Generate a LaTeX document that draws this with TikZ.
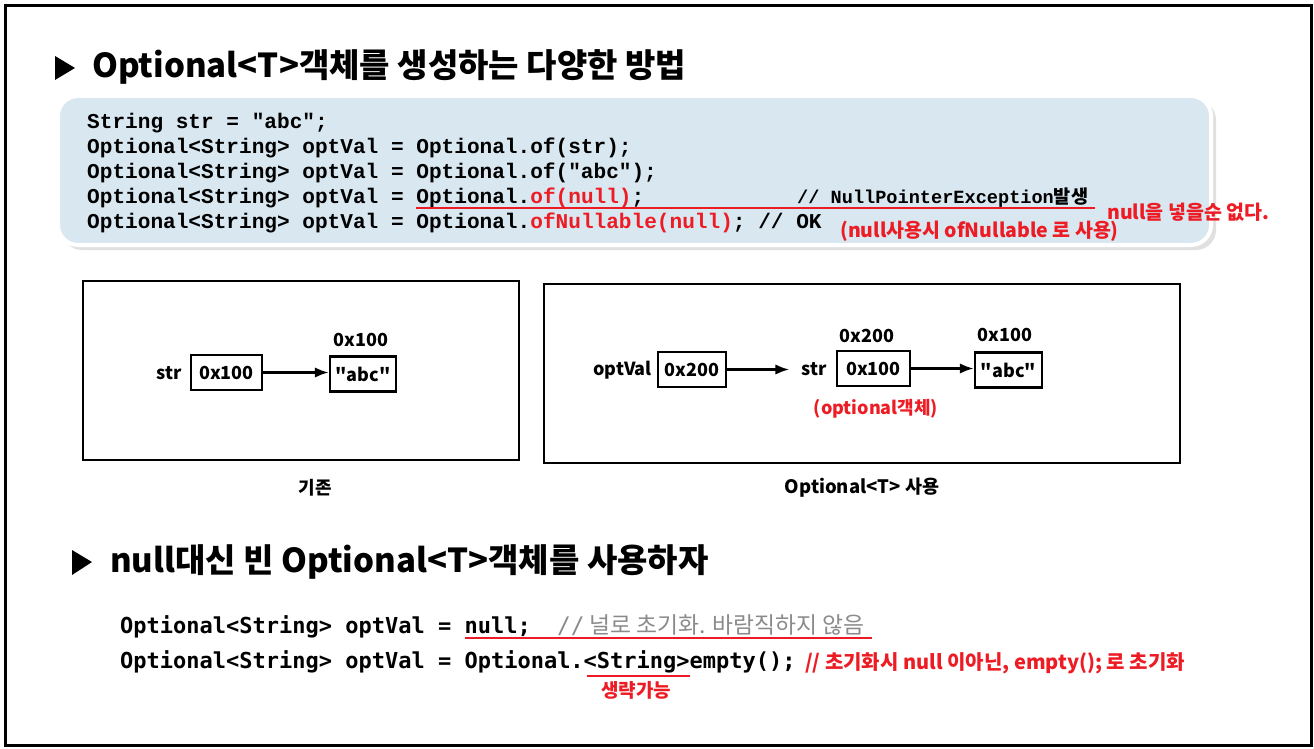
\documentclass[tikz,border=0pt]{standalone}
\usepackage{fontspec}
\usepackage{xcolor}
\usetikzlibrary{arrows.meta}
\setmainfont{Noto Sans CJK KR}[Ligatures=TeXOff]
\setmonofont{Liberation Mono}
\newfontfamily\consfont{DejaVu Sans Mono}
\definecolor{memored}{HTML}{ED1C24}
\definecolor{codebg}{HTML}{D8E7F0}
\definecolor{cmtgray}{HTML}{8A8A8A}

\begin{document}
\begin{tikzpicture}[x=1pt,y=-1pt,>=Latex,
  cell/.style={draw,line width=2.6pt,minimum height=35pt,inner sep=0pt,font=\fontsize{18}{20}\selectfont\bfseries},
  tag/.style={inner sep=0pt,font=\fontsize{18}{20}\selectfont\bfseries},
  note/.style={inner sep=0pt,font=\fontsize{19.5}{22}\selectfont\bfseries,text=memored,anchor=west},
  panel/.style={line width=2.8pt},
  link/.style={->,line width=2.4pt},
  code/.style={anchor=base west,inner sep=0pt,font=\fontsize{21.1}{24}\selectfont\ttfamily\bfseries},
  codetwo/.style={anchor=base west,inner sep=0pt,font=\fontsize{22}{24}\selectfont\consfont\bfseries},
  head/.style={anchor=west,inner sep=0pt,font=\fontsize{33}{36}\selectfont\bfseries}]

  \useasboundingbox (0,0) rectangle (1314,749);
  \draw[line width=3pt] (5,6) rectangle (1311,745);

  % first heading and code box
  \fill (55,56) -- (75,68) -- (55,80) -- cycle;
  \node[head] (head1) at (92,67) {Optional<T>객체를 생성하는 다양한 방법};
  \fill[black,opacity=.12,rounded corners=20pt] (62,100) rectangle (1216,250);
  \draw[white,line width=4pt,fill=codebg,rounded corners=20pt] (58,96) rectangle (1211,245);

  \node[code] (c1) at (87,128.5) {String str = "abc";};
  \node[code] (c2) at (87,153.5) {Optional<String> optVal = Optional.of(str);};
  \node[code] (c3) at (87,178.5) {Optional<String> optVal = Optional.of("abc");};
  \node[code] (c4) at (87,203.5) {Optional<String> optVal = Optional.\textcolor{memored}{of(null)};};
  \node[code,font=\fontsize{18.6}{20}\selectfont\ttfamily\bfseries] (c4x) at (797,203.5) {// NullPointerException{\rmfamily 발생}};
  \node[code] (c5) at (87,228.5) {Optional<String> optVal = Optional.\textcolor{memored}{ofNullable(null)}; // OK};
  \draw[memored,line width=2.5pt] (416,208) -- (1095,208);
  \node[note] (n1) at (1107,212) {null을 넣을순 없다.};
  \node[note] (n2) at (840,231) {(null사용시 ofNullable 로 사용)};

  % before
  \draw[panel] (83,281) rectangle (519,460);
  \node[tag,anchor=east] (strA) at (182,373) {str};
  \node[cell,minimum width=71pt] (refA) at (226.5,372.5) {0x100};
  \node[cell,minimum width=66pt] (valA) at (363,374) {"abc"};
  \node[tag] (adrA) at (361,340) {0x100};
  \draw[link] (refA) -- (refA -| valA.west);
  \node[tag] (capA) at (315,488) {기존};

  % with Optional
  \draw[panel] (544,284) rectangle (1180,463);
  \node[tag,anchor=east] (optB) at (652,370) {optVal};
  \node[cell,minimum width=68pt] (refB) at (692,369.5) {0x200};
  \node[tag] (strB) at (814,369) {str};
  \node[cell,minimum width=73pt] (objB) at (873.5,368.5) {0x100};
  \node[cell,minimum width=67pt] (valB) at (1008.5,370) {"abc"};
  \node[tag] (adrB1) at (867,336) {0x200};
  \node[tag] (adrB2) at (1005,335) {0x100};
  \node[tag,text=memored] (noteB) at (876,409) {(optional객체)};
  \draw[link,shorten >=12pt] (refB) -- (refB -| strB.west);
  \draw[link] (objB) -- (objB -| valB.west);
  \node[tag,font=\fontsize{18.5}{20}\selectfont\bfseries] (capB) at (862,488) {Optional<T> 사용};

  % second heading
  \fill (72,550) -- (92,562) -- (72,575) -- cycle;
  \node[head] (head2) at (110,562) {null대신 빈 Optional<T>객체를 사용하자};
  \node[codetwo] (d1) at (120,633) {Optional<String> optVal = null;};
  \node[anchor=base west,inner sep=0pt,text=cmtgray,font=\fontsize{22.8}{24}\selectfont] (d1x) at (557,633) {{\consfont //} 널로 초기화. 바람직하지 않음};
  \node[codetwo] (d2) at (120,668) {Optional<String> optVal = Optional.<String>empty();};
  \draw[memored,line width=2.5pt] (465,638) -- (872,638);
  \draw[memored,line width=2.5pt] (587,676) -- (690,676);
  \node[tag,text=memored,font=\fontsize{19}{21}\selectfont\bfseries] (d2n) at (636,690) {생략가능};
  \node[note,font=\fontsize{20}{22}\selectfont\bfseries] (d2x) at (805,663) {// 초기화시 null 이아닌, empty(); 로 초기화};
\end{tikzpicture}
\end{document}
